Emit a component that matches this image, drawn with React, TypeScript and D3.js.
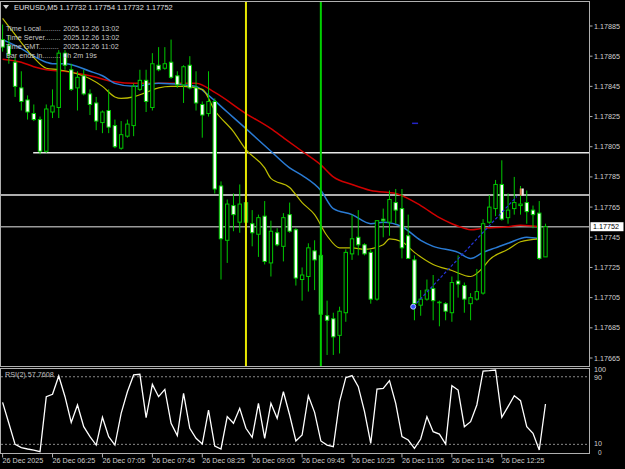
import React from 'react';
import * as d3 from 'd3';

const W = 625;
const H = 469;

// ---- candle data (EURUSD M5) ----
const opens = [1.17876,1.17872,1.17861,1.17844,1.17836,1.17827,1.17823,1.17802,1.17828,1.17831,1.17867,1.17856,1.17844,1.17852,1.17840,1.17834,1.17821,1.17829,1.17819,1.17804,1.17812,1.17819,1.17843,1.17849,1.17831,1.17859,1.17857,1.17861,1.17852,1.17846,1.17859,1.17844,1.17833,1.17827,1.17835,1.17779,1.17743,1.17766,1.17755,1.17768,1.17754,1.17747,1.17759,1.17728,1.17748,1.17739,1.17760,1.17750,1.17717,1.17719,1.17736,1.17733,1.17693,1.17691,1.17680,1.17695,1.17734,1.17745,1.17740,1.17735,1.17704,1.17757,1.17755,1.17768,1.17764,1.17746,1.17730,1.17700,1.17704,1.17711,1.17702,1.17701,1.17695,1.17716,1.17713,1.17701,1.17704,1.17708,1.17755,1.17764,1.17780,1.17758,1.17764,1.17766,1.17768,1.17763,1.17761,1.17732];
const highs = [1.17886,1.17879,1.17864,1.17855,1.17839,1.17833,1.17825,1.17833,1.17843,1.17869,1.17869,1.17860,1.17855,1.17856,1.17843,1.17838,1.17829,1.17843,1.17823,1.17822,1.17823,1.17847,1.17856,1.17856,1.17867,1.17871,1.17871,1.17876,1.17855,1.17859,1.17865,1.17855,1.17835,1.17855,1.17837,1.17782,1.17770,1.17774,1.17780,1.17781,1.17763,1.17760,1.17769,1.17756,1.17751,1.17761,1.17768,1.17751,1.17725,1.17741,1.17743,1.17737,1.17703,1.17695,1.17699,1.17737,1.17760,1.17763,1.17741,1.17737,1.17756,1.17764,1.17776,1.17777,1.17777,1.17760,1.17733,1.17710,1.17717,1.17720,1.17703,1.17702,1.17719,1.17733,1.17715,1.17708,1.17724,1.17757,1.17773,1.17783,1.17796,1.17774,1.17785,1.17779,1.17776,1.17766,1.17769,1.17754];
const lows = [1.17868,1.17860,1.17838,1.17829,1.17823,1.17822,1.17800,1.17801,1.17824,1.17824,1.17856,1.17842,1.17829,1.17839,1.17826,1.17816,1.17814,1.17814,1.17804,1.17803,1.17811,1.17812,1.17842,1.17828,1.17829,1.17855,1.17856,1.17850,1.17844,1.17834,1.17843,1.17829,1.17811,1.17825,1.17774,1.17717,1.17728,1.17749,1.17748,1.17741,1.17739,1.17732,1.17727,1.17719,1.17739,1.17729,1.17748,1.17713,1.17703,1.17709,1.17710,1.17689,1.17667,1.17667,1.17668,1.17689,1.17730,1.17733,1.17733,1.17701,1.17703,1.17745,1.17746,1.17754,1.17731,1.17731,1.17690,1.17693,1.17703,1.17690,1.17686,1.17690,1.17689,1.17705,1.17695,1.17690,1.17703,1.17707,1.17754,1.17759,1.17756,1.17754,1.17760,1.17760,1.17754,1.17751,1.17730,1.17732];
const closes = [1.17871,1.17866,1.17845,1.17835,1.17828,1.17823,1.17802,1.17830,1.17832,1.17867,1.17859,1.17843,1.17851,1.17840,1.17833,1.17822,1.17828,1.17818,1.17805,1.17813,1.17820,1.17845,1.17849,1.17835,1.17860,1.17856,1.17860,1.17851,1.17846,1.17858,1.17844,1.17834,1.17826,1.17835,1.17777,1.17744,1.17767,1.17760,1.17767,1.17755,1.17748,1.17758,1.17729,1.17749,1.17740,1.17758,1.17749,1.17718,1.17720,1.17738,1.17730,1.17694,1.17690,1.17679,1.17696,1.17735,1.17744,1.17740,1.17734,1.17704,1.17756,1.17756,1.17770,1.17763,1.17738,1.17731,1.17701,1.17704,1.17710,1.17703,1.17702,1.17696,1.17715,1.17714,1.17704,1.17705,1.17709,1.17754,1.17765,1.17780,1.17757,1.17763,1.17768,1.17767,1.17762,1.17760,1.17731,1.17752];

// RSI(2)
const rsiValues = [59.7,34.9,10,6.1,4.5,3.3,1.3,66.4,69.2,90.9,66.4,36.0,56.6,30.9,19.1,9.2,42,19.1,9.2,46.7,72.3,92.1,92.9,41.6,81,66.4,75.1,34.9,20.3,70.4,29,17.1,10.4,50.6,8,4.5,42.8,34.9,52.6,29,18.3,58.5,17.1,58.5,40.8,72.3,44.7,14,21.1,67.6,47.9,14,9.2,7.2,60.5,88.9,91.3,78.3,48.7,11.2,75.5,76.3,85.4,58.5,19.1,15.1,5.3,16.3,42.8,25,22.2,10.4,79.4,74.3,30.9,36.8,56.6,96.8,97.2,98,42,54.6,67.6,61.7,30.9,23,3.3,57.76];
const rsiLevels = [90, 10];

// moving averages: [bar index, price]
const maRed = [[0,1.17863],[3,1.17861],[5,1.17858],[7,1.17856],[10,1.17855],[14,1.17852],[18,1.17848],[21,1.17847],[25,1.17847],[29,1.17847],[31,1.17847],[34,1.17841],[39,1.17827],[43,1.17817],[45,1.17811],[48,1.17802],[51,1.17793],[53,1.17785],[56,1.17780],[59,1.17776],[63,1.17774],[67,1.17766],[70,1.17758],[72,1.17754],[74,1.17751],[75,1.17750],[77,1.17751],[81,1.17752],[83,1.17753],[86,1.17752]];
const maBlue = [[0,1.17876],[3,1.17870],[5,1.17865],[7,1.17861],[8,1.17860],[10,1.17860],[14,1.17855],[16,1.17852],[18,1.17847],[21,1.17845],[25,1.17847],[29,1.17846],[31,1.17845],[33,1.17839],[36,1.17828],[39,1.17817],[43,1.17802],[46,1.17791],[48,1.17786],[51,1.17776],[53,1.17764],[56,1.17760],[59,1.17754],[61,1.17755],[64,1.17752],[67,1.17743],[69,1.17739],[73,1.17735],[75,1.17731],[77,1.17735],[79,1.17738],[81,1.17741],[84,1.17745],[86,1.17744]];
const maYellow = [[0,1.17890],[3,1.17874],[5,1.17864],[7,1.17857],[9,1.17856],[14,1.17850],[16,1.17845],[18,1.17838],[19,1.17837],[21,1.17838],[23,1.17841],[25,1.17844],[27,1.17845],[29,1.17845],[32,1.17843],[34,1.17829],[37,1.17815],[39,1.17803],[42,1.17791],[43,1.17784],[46,1.17778],[48,1.17768],[50,1.17760],[52,1.17746],[54,1.17738],[56,1.17738],[58,1.17737],[61,1.17740],[62,1.17744],[64,1.17742],[66,1.17735],[69,1.17727],[72,1.17723],[75,1.17719],[77,1.17725],[78,1.17730],[81,1.17737],[83,1.17742],[86,1.17744]];

// axis labels
const priceTicks = [1.17885,1.17865,1.17845,1.17825,1.17805,1.17785,1.17765,1.17745,1.17725,1.17705,1.17685,1.17665];
const timeLabels = ['26 Dec 2025','26 Dec 06:25','26 Dec 07:05','26 Dec 07:45','26 Dec 08:25','26 Dec 09:05','26 Dec 09:45','26 Dec 10:25','26 Dec 11:05','26 Dec 11:45','26 Dec 12:25'];
const barsPerTimeLabel = 8;

// chart objects
const hLines = [{ price: 1.17801, fromBar: 4.9, color: '#e8e8e8' }, { price: 1.17773, fromBar: -1, color: '#e8e8e8' }];
const bidPrice = 1.17752;
const vLines = [{ bar: 39, color: '#e6e600' }, { bar: 51, color: '#00d000' }];
const trendLine = [[65.8, 1.17699], [82.4, 1.17772]];
const blueMark = [66.1, 1.178205];
const arrowMark = [83.2, 1.17775];

const header = 'EURUSD,M5  1.17732 1.17754 1.17732 1.17752';
const infoLabels = ['Time Local..........', 'Time Server........', 'Time GMT..........', 'Bar ends in.........'];
const infoValues = ['2025.12.26 13:02', '2025.12.26 13:02', '2025.12.26 11:02', '0h 2m 19s'];
const rsiTitle = 'RSI(2) 57.7608';

const FONT = 'Liberation Sans, Arial, sans-serif';
const GREEN = '#00c800';
const TXT = '#d0d0d0';

export default function App() {
  const n = opens.length;
  const x = d3.scaleLinear().domain([0, n - 1]).range([2.6, 2.6 + (n - 1) * 6.24]);
  const y = d3.scaleLinear().domain([1.17665, 1.17885]).range([358, 26]);
  const yR = d3.scaleLinear().domain([0, 100]).range([452.8, 368.3]);

  const mainTop = 1.5, mainBottom = 366.5, rsiTop = 368.5, rsiBottom = 453.5, right = 589.5;

  const maLine = d3.line<number[]>().x(d => x(d[0])).y(d => y(d[1])).curve(d3.curveMonotoneX);
  const rsiLine = d3.line<number>().x((_, i) => x(i)).y(d => yR(d));

  return (
    <div style={{ position: 'absolute', left: 0, top: 0 }}>
      <svg width={W} height={H} style={{ display: 'block', background: '#000' }} fontFamily={FONT}>
        <rect x={0} y={0} width={W} height={H} fill="#000" />
        <defs>
          <clipPath id="mainClip"><rect x={1} y={2} width={588} height={364} /></clipPath>
          <clipPath id="rsiClip"><rect x={1} y={369} width={588} height={84} /></clipPath>
        </defs>

        {/* horizontal objects */}
        <g clipPath="url(#mainClip)">
          {hLines.map((h, i) => (
            <line key={i} x1={h.fromBar < 0 ? 0 : x(h.fromBar)} x2={right} y1={y(h.price)} y2={y(h.price)} stroke={h.color} strokeWidth={1.6} />
          ))}
          <line x1={0} x2={right} y1={y(bidPrice)} y2={y(bidPrice)} stroke="#9a9a9a" strokeWidth={1.6} />

          {/* moving averages */}
          <path d={maLine(maRed) || ''} fill="none" stroke="#d00000" strokeWidth={1.5} />
          <path d={maLine(maBlue) || ''} fill="none" stroke="#2a7bd4" strokeWidth={1.5} />
          <path d={maLine(maYellow) || ''} fill="none" stroke="#bcbc00" strokeWidth={1.2} />

          {/* candles */}
          {opens.map((o, i) => {
            const c = closes[i];
            const cx = x(i);
            const top = y(Math.max(o, c));
            const bot = y(Math.min(o, c));
            const bull = c >= o;
            return (
              <g key={i}>
                <line x1={cx} x2={cx} y1={y(highs[i])} y2={y(lows[i])} stroke={GREEN} strokeWidth={1} />
                <rect x={cx - 1.7} y={top} width={3.4} height={Math.max(bot - top, 0.6)} fill={bull ? '#000' : '#fff'} stroke={GREEN} strokeWidth={1} />
              </g>
            );
          })}

          {/* vertical lines */}
          {vLines.map((v, i) => (
            <line key={i} x1={x(v.bar)} x2={x(v.bar)} y1={0} y2={367} stroke={v.color} strokeWidth={2} />
          ))}

          {/* trend line */}
          <line x1={x(trendLine[0][0])} y1={y(trendLine[0][1])} x2={x(trendLine[1][0])} y2={y(trendLine[1][1])} stroke="#2434d8" strokeWidth={1.2} strokeDasharray="3,2" />
          <circle cx={x(trendLine[0][0])} cy={y(trendLine[0][1])} r={2.5} fill="#2f4fff" stroke="#b8c0ff" strokeWidth={1} />
          <line x1={x(blueMark[0]) - 3} x2={x(blueMark[0]) + 3} y1={y(blueMark[1])} y2={y(blueMark[1])} stroke="#2424c8" strokeWidth={1.5} />
          <rect x={x(arrowMark[0]) - 2} y={y(arrowMark[1]) - 3.5} width={2} height={7} fill="#e0804a" />
          <rect x={x(arrowMark[0])} y={y(arrowMark[1]) - 3.5} width={2} height={7} fill="#f0f0f0" />
        </g>

        {/* RSI panel */}
        <g clipPath="url(#rsiClip)">
          {rsiLevels.map((lv, i) => (
            <line key={i} x1={1} x2={right} y1={yR(lv)} y2={yR(lv)} stroke="#8a8a8a" strokeWidth={1} strokeDasharray="2,2" />
          ))}
          <path d={rsiLine(rsiValues) || ''} fill="none" stroke="#ffffff" strokeWidth={1.3} />
        </g>

        {/* frames */}
        <rect x={0.5} y={mainTop} width={right - 0.5} height={mainBottom - mainTop} fill="none" stroke="#b0b0b0" strokeWidth={1} />
        <rect x={0.5} y={rsiTop} width={right - 0.5} height={rsiBottom - rsiTop} fill="none" stroke="#b0b0b0" strokeWidth={1} />

        {/* price axis */}
        {priceTicks.map((p, i) => (
          <g key={i}>
            <line x1={right} x2={right + 3} y1={y(p)} y2={y(p)} stroke="#b0b0b0" />
            <text x={594} y={y(p)} dy="0.35em" fontSize={7.2} fill={TXT}>{p.toFixed(5)}</text>
          </g>
        ))}
        <rect x={590.5} y={y(bidPrice) - 4.5} width={33} height={9} fill="#ffffff" />
        <text x={593} y={y(bidPrice)} dy="0.35em" fontSize={7.2} fill="#000">{bidPrice.toFixed(5)}</text>

        {/* RSI axis */}
        <text x={594} y={yR(100) + 4} fontSize={7.2} fill={TXT}>100</text>
        <text x={594} y={yR(90) + 3} fontSize={7.2} fill={TXT}>90</text>
        <text x={594} y={yR(10) + 1.5} fontSize={7.2} fill={TXT}>10</text>
        <text x={598} y={yR(0) + 2.5} fontSize={6.5} fill={TXT}>0</text>
        <text x={5} y={377} fontSize={7.2} fill="#c0c0c0">{rsiTitle}</text>

        {/* time axis */}
        {timeLabels.map((t, i) => {
          const tx = x(i * barsPerTimeLabel);
          return (
            <g key={i}>
              <line x1={tx} x2={tx} y1={rsiBottom} y2={rsiBottom + 4} stroke="#b0b0b0" />
              <text x={tx} y={463} fontSize={7.2} fill={TXT}>{t}</text>
            </g>
          );
        })}

        {/* header + info */}
        <path d="M3,5 L9,5 L6,9 Z" fill={TXT} />
        <text x={14} y={10} fontSize={7.4} fill="#e0e0e0">{header}</text>
        {infoLabels.map((l, i) => (
          <g key={i}>
            <text x={6} y={30.5 + i * 9} fontSize={7.2} fill="#c8c8c8">{l}</text>
            <text x={63.3} y={30.5 + i * 9} fontSize={7.2} fill="#c8c8c8">{infoValues[i]}</text>
          </g>
        ))}
      </svg>
    </div>
  );
}
